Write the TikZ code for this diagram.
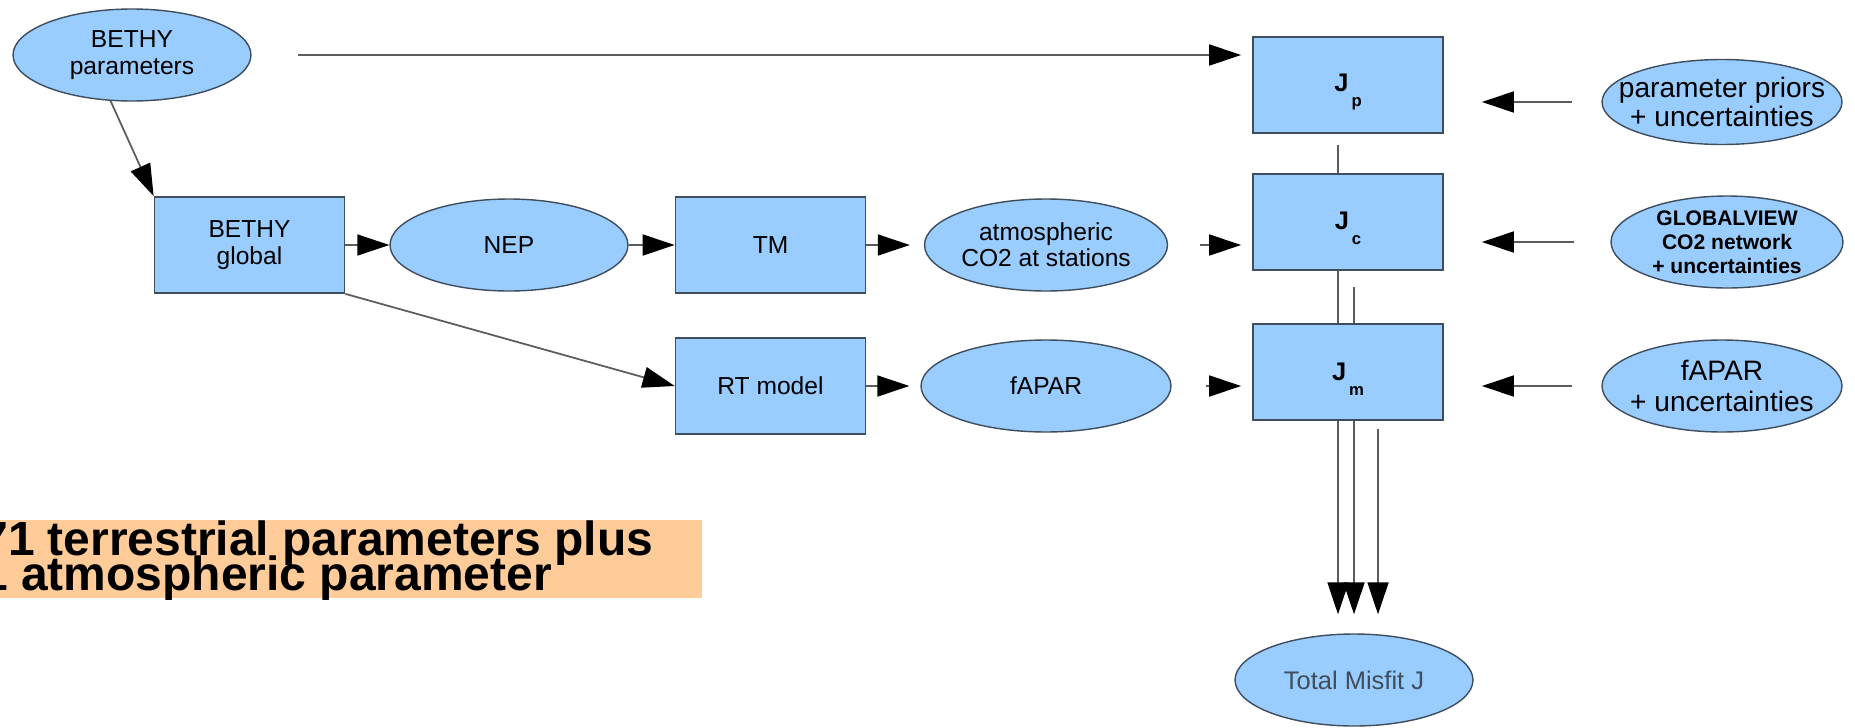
\documentclass[tikz,border=0pt]{standalone}
\usepackage{fontspec}
\setmainfont{Liberation Sans}
\usetikzlibrary{shapes.geometric,arrows.meta,calc,backgrounds}
\definecolor{boxblue}{HTML}{99CCFF}
\definecolor{boxline}{HTML}{3F4D5C}
\definecolor{wire}{HTML}{5C5C5C}
\definecolor{notefill}{HTML}{FFCC99}
\newcommand{\Jsub}[1]{\rule{0pt}{0.62cm}{\bfseries\fontsize{14.5}{14.5}\selectfont J}\hspace{0.06cm}\raisebox{-0.3cm}{\fontsize{9.5}{9.5}\selectfont\bfseries #1}}

\begin{document}
\begin{tikzpicture}[x=0.02cm, y=-0.02cm,
  box/.style={draw=boxline, line width=1pt, fill=boxblue, rectangle, minimum width=3.8cm, minimum height=1.92cm, inner sep=0pt, align=center, font=\fontsize{14}{15}\selectfont},
  blob/.style={draw=boxline, line width=0.8pt, fill=boxblue, ellipse, minimum width=4.76cm, minimum height=1.84cm, inner sep=0pt, align=center, font=\fontsize{14}{15}\selectfont},
  arr/.style={draw=wire, line width=1pt, -{Triangle[length=0.64cm,width=0.42cm,color=black,fill=black]}}]
\useasboundingbox (0,0) rectangle (1855,727);
\clip (0,0) rectangle (1855,727);

\node[blob] (params) at (132,55) {BETHY\\parameters};
\node[box] (global) at (249.5,245) {BETHY\\global};
\node[blob] (nep) at (509,245) {NEP};
\node[box] (tm) at (770.5,245) {TM};
\node[blob, minimum width=4.86cm] (atmco2) at (1046,245) {atmospheric\\CO2 at stations};
\node[box] (rt) at (770.5,386) {RT model};
\node[blob, minimum width=5cm] (fapar) at (1046,386) {fAPAR};

\node[box] (jp) at (1348,85) {\Jsub{p}};
\node[box] (jc) at (1348,222) {\Jsub{c}};
\node[box] (jm) at (1348,372) {\Jsub{m}};

\node[blob, minimum width=4.8cm, minimum height=1.7cm, inner xsep=-0.38cm, font=\fontsize{16}{17}\selectfont] (priors) at (1722,102) {parameter priors\\+ uncertainties};
\node[blob, minimum width=4.64cm, font=\bfseries\fontsize{12}{13.6}\selectfont] (gview) at (1727,242) {GLOBALVIEW\\CO2 network\\+ uncertainties};
\node[blob, minimum width=4.8cm, inner xsep=-0.18cm, font=\fontsize{16}{18}\selectfont] (faparobs) at (1722,386) {fAPAR\\+ uncertainties};
\node[blob, text=boxline, font=\fontsize{14.5}{16}\selectfont] (total) at (1354,680) {Total Misfit J};

\draw[arr] (params.-115) -- (global.north west);
\draw[arr, shorten <=0.92cm, shorten >=0.22cm] (params.east) -- (params.east -| jp.west);
\draw[arr] (global) -- (nep);
\draw[arr] (nep) -- (tm);
\draw[arr, shorten >=0.28cm] (tm) -- (atmco2);
\draw[arr] (global.south east) -- (rt.west);
\draw[arr, shorten >=0.22cm] (rt) -- (fapar);
\draw[arr, shorten <=0.64cm, shorten >=0.22cm] (atmco2.east) -- (atmco2.east -| jc.west);
\draw[arr, shorten <=0.68cm, shorten >=0.22cm] (fapar.east) -- (fapar.east -| jm.west);

\draw[arr, shorten <=0.58cm, shorten >=0.76cm] (priors.west) -- (priors.west -| jp.east);
\draw[arr, shorten <=0.72cm, shorten >=0.76cm] (gview.west) -- (gview.west -| jc.east);
\draw[arr, shorten <=0.58cm, shorten >=0.76cm] (faparobs.west) -- (faparobs.west -| jm.east);

\coordinate (d1) at ($(jp.south)+(-10,11)$);
\coordinate (d2) at ($(jc.south)+(6,16)$);
\coordinate (d3) at ($(jm.south)+(30,8)$);
\begin{scope}[on background layer]
\draw[arr, shorten >=0.38cm] (d1) -- (d1 |- total.north);
\draw[arr, shorten >=0.38cm] (d2) -- (d2 |- total.north);
\draw[arr, shorten >=0.38cm] (d3) -- (d3 |- total.north);
\end{scope}

\fill[notefill] (0,520) rectangle (702,598);
\node[anchor=base west, inner sep=0pt, font=\bfseries\fontsize{27.3}{28}\selectfont] (note1) at (-19,555) {71 terrestrial parameters plus};
\node[anchor=base west, inner sep=0pt, font=\bfseries\fontsize{27.3}{28}\selectfont] (note2) at (-19,590) {1 atmospheric parameter};
\end{tikzpicture}
\end{document}
